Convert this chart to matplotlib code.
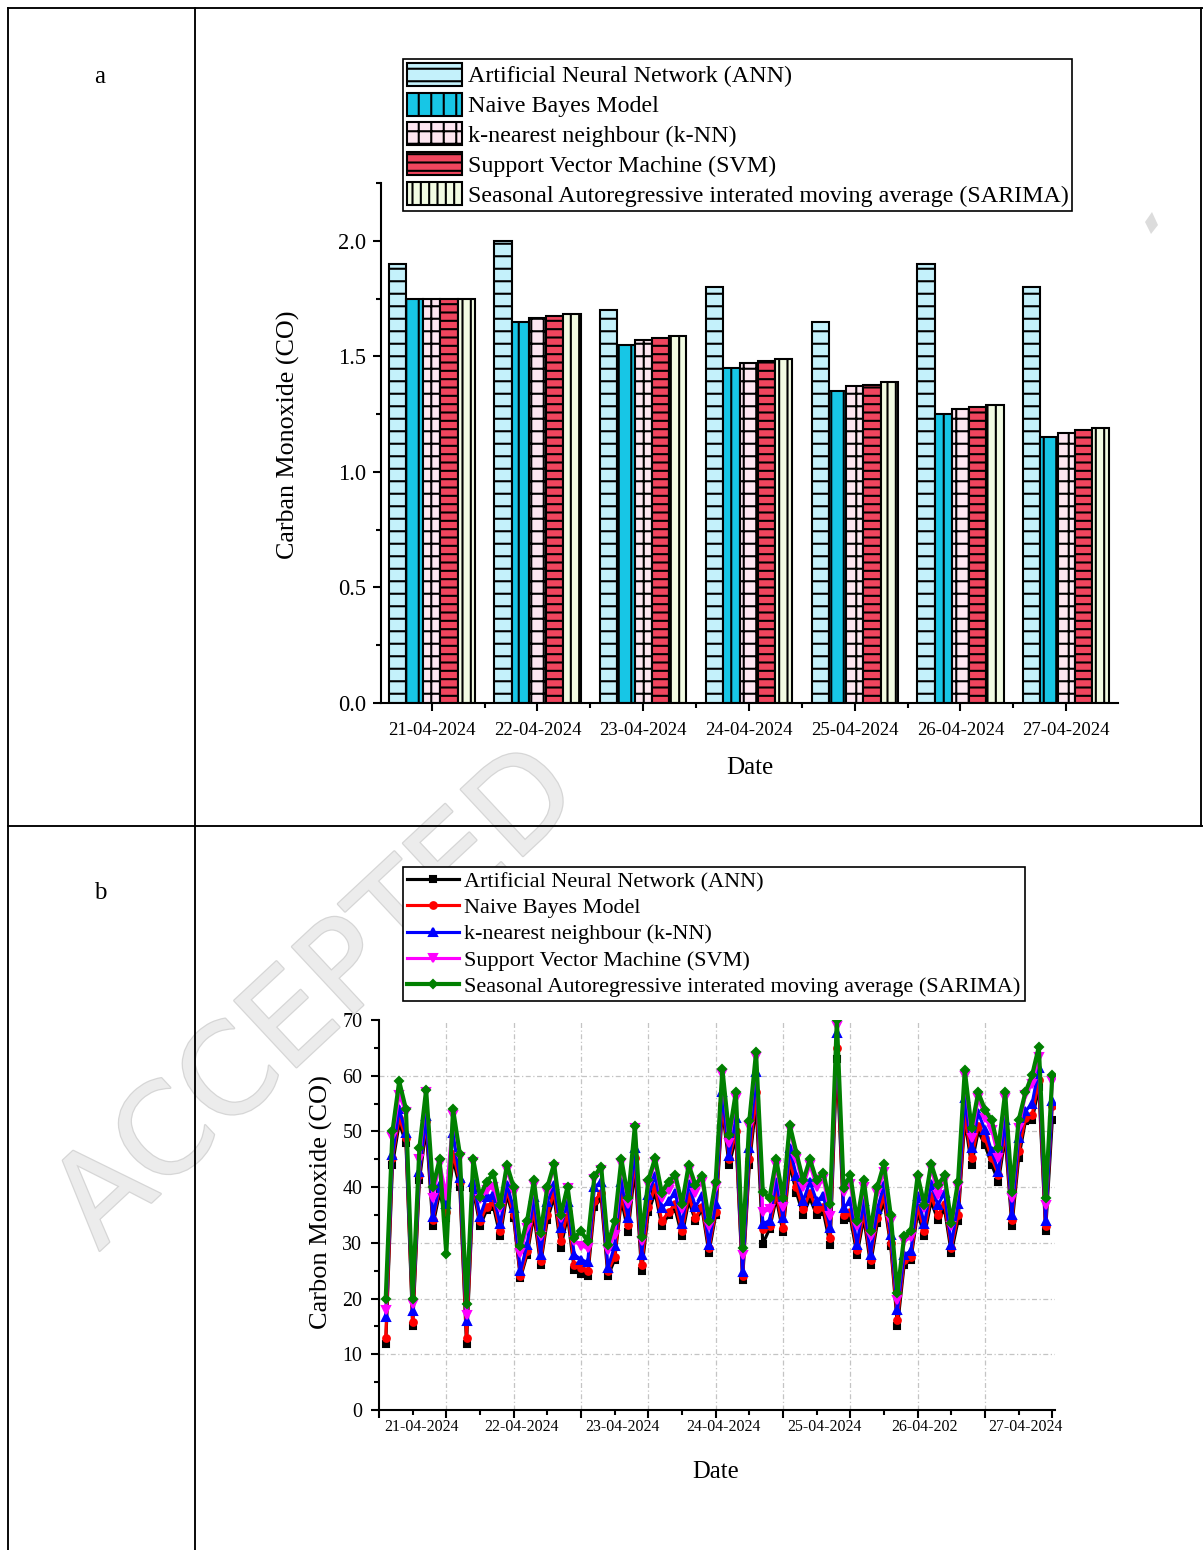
import numpy as np
import matplotlib
matplotlib.use('Agg')
import matplotlib.pyplot as plt
from matplotlib.lines import Line2D
from matplotlib.patches import Polygon
import matplotlib.patheffects as pe
import matplotlib.transforms as mtrans

plt.rcParams['font.family'] = 'Liberation Serif'
plt.rcParams['hatch.linewidth'] = 1.0

# SOME CONSTANTS
W, H = 1203, 1550
DPI = 150

MODELS = ['Artificial Neural Network (ANN)',
          'Naive Bayes Model',
          'k-nearest neighbour (k-NN)',
          'Support Vector Machine (SVM)',
          'Seasonal Autoregressive interated moving average (SARIMA)']

# Panel a : daily values
DATES = ['21-04-2024', '22-04-2024', '23-04-2024', '24-04-2024',
         '25-04-2024', '26-04-2024', '27-04-2024']
ann_bar    = [1.90, 2.00, 1.70, 1.80, 1.65, 1.90, 1.80]
nb_bar     = [1.75, 1.65, 1.55, 1.45, 1.35, 1.25, 1.15]
knn_bar    = [1.75, 1.665, 1.57, 1.47, 1.37, 1.27, 1.17]
svm_bar    = [1.75, 1.675, 1.58, 1.48, 1.375, 1.28, 1.18]
sarima_bar = [1.75, 1.685, 1.59, 1.49, 1.39, 1.29, 1.19]

# Panel b : 100 samples over the week
DATE_LABELS_B = ['21-04-2024', '22-04-2024', '23-04-2024', '24-04-2024',
                 '25-04-2024', '26-04-202', '27-04-2024']
DATE_LABEL_POS = [6.3, 21.2, 36.1, 51.1, 66.1, 81.0, 96.0]

ann_line = [11.8, 44, 51.5, 48, 15, 41.2, 50.6, 33.1, 39, 34.5,
            45, 40, 11.8, 39.8, 33, 35.9, 36.5, 31.2, 38.6, 34.4,
            23.7, 27.9, 35, 26.1, 34.1, 38.3, 29.1, 34.8, 25.2, 24.5,
            24, 36.5, 38, 24, 27, 37.7, 32, 43.4, 24.9, 35.5,
            39, 33, 35, 36, 31.2, 37.5, 34, 36, 28.2, 35,
            54, 43.9, 49, 23.3, 44, 55, 29.8, 32.5, 38, 31.9,
            44, 39, 35, 38, 35, 35.5, 29.7, 63, 34.1, 34.5,
            27.9, 34.5, 26.1, 33.5, 37.5, 29.5, 15, 26.1, 27, 35.5,
            31.2, 37.5, 34.1, 36, 28.2, 34, 52, 44, 50, 47.6,
            44, 41, 49, 33, 45.2, 51.8, 52, 58, 32.1, 52]
nb_line = [12.9, 45.2, 52.5, 48.8, 15.8, 42.2, 51.8, 34.1, 39.8, 35.5,
           46, 41, 12.9, 40.4, 33.9, 36.5, 37.4, 32.1, 39.5, 35,
           24, 28.5, 36.2, 26.7, 35, 39.2, 30.3, 35.6, 26.1, 25.4,
           25, 37.5, 39, 24.9, 27.5, 38.6, 33.2, 45.2, 26.1, 36.5,
           40, 33.9, 35.5, 37, 32.1, 38.5, 34.5, 36.5, 29.1, 35.5,
           55, 45, 50, 24, 45, 57, 32.4, 33, 39, 32.7,
           45, 40, 36, 39, 36, 36.5, 30.9, 65, 35, 35.5,
           28.8, 35.5, 27, 34.5, 38.5, 30, 16.2, 27, 27.5, 36.5,
           32.1, 38.5, 35, 37, 29.1, 35, 53, 45.2, 51, 48.8,
           45.2, 42.2, 50, 34.1, 46.4, 52.4, 53, 59.2, 33, 54.6]
knn_line = [16.7, 45.8, 54, 49.7, 17.8, 42.8, 52.8, 34.7, 40.4, 37,
            49.7, 41.6, 16, 41, 34.7, 38.3, 38.6, 33.3, 40.4, 36.2,
            24.9, 29.7, 38.3, 27.9, 37.4, 40.4, 32.7, 37.4, 27.9, 27,
            26.5, 40, 41, 25.5, 29.5, 41, 34.4, 47, 27.9, 38.6,
            42, 36.2, 37.5, 39, 33.3, 40.5, 36.5, 38.5, 29.7, 37,
            57, 45.6, 52.5, 24.7, 47, 60.6, 33.4, 34, 41, 34.5,
            47, 42, 37.5, 41, 37.5, 38.5, 32.7, 67.7, 36.2, 37.5,
            29.7, 37.5, 27.9, 36, 40.4, 31.5, 18, 27.9, 28.5, 38.5,
            33.3, 40.5, 36.8, 39, 29.7, 37, 56, 47, 53.3, 50.3,
            46.4, 42.8, 52, 35, 48.8, 53.6, 55, 61.3, 33.9, 55.5]
svm_line = [18, 49, 56.5, 53.5, 19, 45, 57, 38, 44.3, 38.5,
            53, 45.5, 17, 44.6, 37.8, 39.5, 40.1, 36.2, 43.1, 39.2,
            28.2, 32.7, 40.4, 31.2, 39.2, 43.7, 34.4, 39.8, 30.3, 29.5,
            29, 41.5, 43, 28.8, 31.5, 44.3, 37, 50.6, 30.3, 40.5,
            44.5, 38, 39.5, 41.5, 36, 43, 39, 41, 33, 40,
            60.3, 48, 56, 27.9, 51, 63.3, 35.5, 36, 44, 36.5,
            50.5, 45, 40, 44, 40, 41.5, 34.8, 69, 39.2, 40.5,
            33, 40, 31.2, 39, 42.8, 34, 19.8, 30.3, 31, 41.5,
            36.3, 43.5, 38.6, 41.5, 33, 40, 60, 48.8, 56, 52.5,
            50.3, 45.2, 56, 38, 50.6, 56.5, 58.5, 63.4, 36.8, 59]
sarima_line = [20, 50, 59, 54, 20, 47, 57.5, 40, 45, 28,
               54, 46, 19, 45, 38.3, 41, 42.4, 36.8, 44, 40,
               29.4, 34, 41.2, 31.8, 40, 44.2, 35, 40.1, 30.9, 32.1,
               30.3, 42, 43.7, 29.7, 33.9, 45, 38, 51, 31, 41.2,
               45.2, 39, 41, 42.2, 37, 44, 40.4, 42, 33.9, 41,
               61.2, 49.4, 57, 29.1, 51.9, 64.2, 39.2, 38, 45, 38,
               51.2, 46.1, 41.2, 45, 41.2, 42.5, 37, 70, 39.8, 42.2,
               33.9, 41.2, 32.1, 40, 44.2, 35, 21, 31.2, 32.1, 42.1,
               36.8, 44.2, 40.4, 42.1, 33.6, 41, 61, 50.6, 57, 53.9,
               52, 47, 57, 39.2, 52, 57, 60.1, 65.2, 38, 60.1]


def fx(px):
    return px / W


def fy(py):
    return 1 - py / H


fig = plt.figure(figsize=(W / DPI, H / DPI), dpi=DPI)

# table frame around the two panels
frame_kw = dict(transform=fig.transFigure, color='black', lw=0.9)
fig.add_artist(Line2D([fx(8), fx(8)], [fy(8), 0], **frame_kw))
fig.add_artist(Line2D([fx(195), fx(195)], [fy(8), 0], **frame_kw))
fig.add_artist(Line2D([fx(8), 1], [fy(8), fy(8)], **frame_kw))
fig.add_artist(Line2D([fx(8), 1], [fy(826), fy(826)], **frame_kw))
fig.add_artist(Line2D([fx(1201), fx(1201)], [fy(8), fy(826)], **frame_kw))
fig.text(fx(100), fy(77), 'a', ha='center', va='center', fontsize=12)
fig.text(fx(100), fy(893), 'b', ha='center', va='center', fontsize=12)

# watermark (drawn under the legends)
fig.text(fx(318), fy(1000), 'ACCEPTED', family='DejaVu Sans', fontsize=60,
         rotation=43, ha='center', va='center', rotation_mode='anchor',
         color='#ececec', zorder=1,
         path_effects=[pe.withStroke(linewidth=1.2, foreground='#d6d6d6')])
fig.add_artist(Polygon([(fx(1145), fy(222)), (fx(1152), fy(212)),
                        (fx(1158), fy(225)), (fx(1151), fy(234))],
                       closed=True, transform=fig.transFigure,
                       facecolor='#dcdcdc', edgecolor='none', zorder=1))

# ---------------- panel a : bar chart ----------------
ax1 = fig.add_axes([fx(381), fy(703), fx(1118) - fx(381), fy(183) - fy(703)])
x = np.arange(len(DATES))
width = 0.163
bar_series = [ann_bar, nb_bar, knn_bar, svm_bar, sarima_bar]
faces   = ['#c4f1fb', '#17c6e6', '#fde6f1', '#f0455e', '#f2fbe2']
hatches = ['--', '||', '++', '---', '|||']
for i, vals in enumerate(bar_series):
    ax1.bar(x + (i - 2) * width, vals, width, color=faces[i], edgecolor='black',
            hatch=hatches[i], linewidth=1.0, label=MODELS[i])

ax1.set_xlim(-0.48, 6.49)
ax1.set_ylim(0, 2.25)
ax1.spines['top'].set_visible(False)
ax1.spines['right'].set_visible(False)
for s in ['left', 'bottom']:
    ax1.spines[s].set_linewidth(1.0)
ax1.set_xticks(x)
ax1.set_xticklabels(DATES, fontsize=9)
ax1.set_xticks(x[:-1] + 0.5, minor=True)
ax1.set_yticks(np.arange(0, 2.01, 0.5))
ax1.set_yticklabels(['%.1f' % v for v in np.arange(0, 2.01, 0.5)], fontsize=10.8)
ax1.set_yticks(np.arange(0.25, 2.26, 0.5), minor=True)
ax1.tick_params(which='major', direction='out', length=4, width=1.0)
ax1.tick_params(axis='x', which='major', pad=5)
ax1.tick_params(axis='y', which='major', pad=3)
ax1.tick_params(which='minor', direction='out', length=2.5, width=1.0)
ax1.set_ylabel('Carban Monoxide (CO)', fontsize=12.5)
ax1.yaxis.set_label_coords(-0.11, 0.515)
ax1.set_xlabel('Date', fontsize=12)
ax1.xaxis.set_label_coords(0.5, -0.104)

h1, l1 = ax1.get_legend_handles_labels()
leg1 = fig.legend(h1, l1, loc='upper left', bbox_to_anchor=(fx(403), fy(59)),
                  fontsize=11.5, handlelength=2.3, handleheight=1.1,
                  handletextpad=0.25, labelspacing=0.22, borderpad=0.15,
                  borderaxespad=0, fancybox=False, framealpha=1, edgecolor='black')
leg1.get_frame().set_linewidth(0.8)
leg1.set_zorder(5)

# ---------------- panel b : line chart ----------------
ax2 = fig.add_axes([fx(379), fy(1410), fx(1055) - fx(379), fy(1020) - fy(1410)])
ax2.set_facecolor('none')
hours = np.arange(1, len(sarima_line) + 1)
line_series = [(ann_line, 'black', 's', 3.2, 1.5),
               (nb_line, 'red', 'o', 3.2, 1.5),
               (knn_line, 'blue', '^', 3.4, 1.5),
               (svm_line, 'magenta', 'v', 3.4, 1.5),
               (sarima_line, '#008000', 'D', 2.8, 2.0)]
for i, (vals, col, mk, ms, lw) in enumerate(line_series):
    ax2.plot(hours, vals, color=col, marker=mk, markersize=ms, linewidth=lw,
             label=MODELS[i])

ax2.set_xlim(0, 100.4)
ax2.set_ylim(0, 70)
ax2.spines['top'].set_visible(False)
ax2.spines['right'].set_visible(False)
for s in ['left', 'bottom']:
    ax2.spines[s].set_linewidth(1.0)
ax2.set_xticks(np.arange(0, 101, 10))
ax2.set_xticklabels([])
ax2.set_xticks(np.arange(5, 100, 10), minor=True)
ax2.set_yticks(np.arange(0, 71, 10))
ax2.set_yticklabels([str(v) for v in range(0, 71, 10)], fontsize=9.6)
ax2.set_yticks(np.arange(5, 70, 10), minor=True)
ax2.tick_params(which='major', direction='out', length=4, width=1.0, pad=4)
ax2.tick_params(which='minor', direction='out', length=2.5, width=1.0)

grid_kw = dict(color='#c4c4c4', linestyle=(0, (4, 2, 1, 2)), linewidth=0.6, zorder=0)
for gy in range(10, 70, 10):
    ax2.axhline(gy, **grid_kw)
for gx in range(10, 100, 10):
    ax2.axvline(gx, **grid_kw)

trans = mtrans.blended_transform_factory(ax2.transData, ax2.transAxes)
for pos, lab in zip(DATE_LABEL_POS, DATE_LABELS_B):
    ax2.text(pos, -0.043, lab, transform=trans, ha='center', va='center', fontsize=7.6)

ax2.set_ylabel('Carbon Monoxide (CO)', fontsize=12.7)
ax2.yaxis.set_label_coords(-0.068, 0.533)
ax2.set_xlabel('Date', fontsize=11.8)
ax2.xaxis.set_label_coords(0.4985, -0.131)

h2, l2 = ax2.get_legend_handles_labels()
leg2 = fig.legend(h2, l2, loc='upper left', bbox_to_anchor=(fx(403), fy(867)),
                  fontsize=10.7, handlelength=2.3, handletextpad=0.25,
                  labelspacing=0.25, borderpad=0.2, borderaxespad=0,
                  fancybox=False, framealpha=1, edgecolor='black')
leg2.get_frame().set_linewidth(0.8)
leg2.set_zorder(5)

fig.savefig('out.png', dpi=DPI)
